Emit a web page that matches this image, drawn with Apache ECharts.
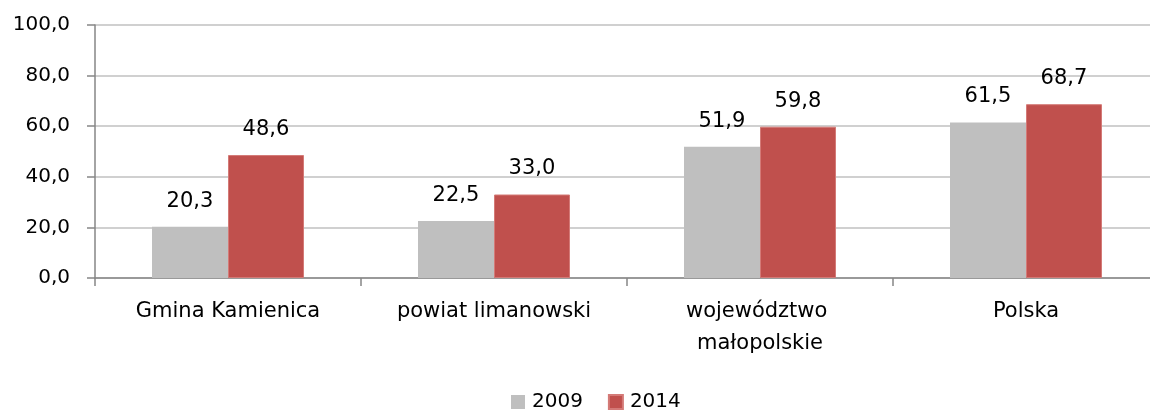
<!DOCTYPE html>
<html>
<head>
<meta charset="utf-8">
<style>
  html, body { margin: 0; padding: 0; background: #ffffff; }
  #chart { width: 1150px; height: 410px; }
</style>
<script src="https://cdn.jsdelivr.net/npm/echarts@6/dist/echarts.min.js"></script>
</head>
<body>
<div id="chart"></div>
<script>
// Categories (areas) and the two years being compared
const categories = ['Gmina Kamienica', 'powiat limanowski', 'województwo małopolskie', 'Polska'];
const seriesNames = ['2009', '2014'];
const values2009 = [20.3, 22.5, 51.9, 61.5];
const values2014 = [48.6, 33.0, 59.8, 68.7];
const yTicks = { min: 0, max: 100, interval: 20 };

const FONT = 'DejaVu Sans';
const fmt = v => Number(v).toFixed(1).replace('.', ',');

const chart = echarts.init(document.getElementById('chart'), null, { renderer: 'canvas' });

const labelStyle = {
  show: true,
  position: 'top',
  distance: 15,
  color: '#000000',
  fontFamily: FONT,
  fontSize: 21,
  lineHeight: 21,
  formatter: p => fmt(p.value)
};

chart.setOption({
  animation: false,
  backgroundColor: '#ffffff',
  textStyle: { fontFamily: FONT },
  // plot area runs a little past the right edge of the canvas
  grid: { left: 95, top: 25, width: 1064, height: 253, containLabel: false, outerBoundsMode: 'none' },
  legend: {
    data: seriesNames,
    top: 391,
    left: 511,
    padding: 0,
    itemWidth: 14,
    itemHeight: 14,
    itemGap: 25,
    icon: 'rect',
    textStyle: { color: '#000000', fontSize: 20, fontFamily: FONT, lineHeight: 22, padding: [0, 0, 0, 2] }
  },
  xAxis: {
    type: 'category',
    data: categories,
    axisLine: { show: true, lineStyle: { color: '#868686', width: 1.5 } },
    axisTick: { show: true, length: 8, lineStyle: { color: '#868686', width: 1.5 } },
    axisLabel: {
      color: '#000000',
      fontFamily: FONT,
      fontSize: 21,
      lineHeight: 32,
      margin: 18,
      width: 235,
      overflow: 'break',
      interval: 0
    }
  },
  yAxis: {
    type: 'value',
    min: yTicks.min,
    max: yTicks.max,
    interval: yTicks.interval,
    axisLine: { show: true, lineStyle: { color: '#868686', width: 1.5 } },
    axisTick: { show: true, length: 8, lineStyle: { color: '#868686', width: 1.5 } },
    splitLine: { show: true, lineStyle: { color: '#c0c0c0', width: 1.5 } },
    axisLabel: {
      color: '#000000',
      fontFamily: FONT,
      fontSize: 20,
      margin: 25,
      formatter: v => fmt(v)
    }
  },
  series: [
    {
      name: seriesNames[0],
      type: 'bar',
      data: values2009,
      barWidth: 76,
      barGap: '0%',
      itemStyle: { color: '#bfbfbf' },
      label: labelStyle
    },
    {
      name: seriesNames[1],
      type: 'bar',
      data: values2014,
      barWidth: 76,
      barGap: '0%',
      itemStyle: { color: '#c0504d', borderColor: '#d47a77', borderWidth: 1 },
      label: labelStyle
    }
  ]
});
</script>
</body>
</html>
